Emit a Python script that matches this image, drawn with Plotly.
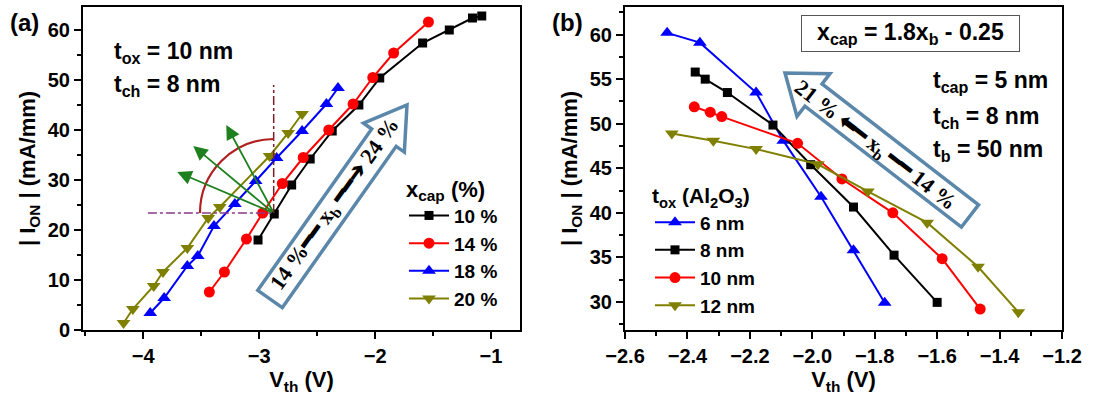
import math
import plotly.graph_objects as go

# ---------------- data ----------------
# panel (a): Vth (V) vs |I_ON| (mA/mm) for different x_cap
a_names = ["10 %", "14 %", "18 %", "20 %"]
a_x10 = [-3.01, -2.87, -2.72, -2.56, -2.37, -2.14, -1.96, -1.59, -1.36, -1.16, -1.08]
a_y10 = [18.0, 23.2, 29.0, 34.2, 39.8, 45.0, 50.4, 57.4, 60.0, 62.4, 62.8]
a_x14 = [-3.43, -3.30, -3.11, -2.97, -2.80, -2.62, -2.40, -2.19, -2.02, -1.84, -1.54]
a_y14 = [7.6, 11.6, 18.2, 23.4, 29.3, 34.5, 40.0, 45.2, 50.5, 55.4, 61.6]
a_x18 = [-3.94, -3.82, -3.62, -3.53, -3.39, -3.21, -3.03, -2.85, -2.63, -2.42, -2.32]
a_y18 = [3.4, 6.4, 12.8, 14.8, 20.8, 25.2, 29.8, 34.4, 39.8, 45.2, 48.4]
a_x20 = [-4.17, -4.09, -3.91, -3.83, -3.62, -3.44, -3.34, -2.91, -2.75, -2.63]
a_y20 = [1.4, 4.2, 8.8, 11.6, 16.4, 22.4, 24.6, 34.8, 39.4, 43.2]

# panel (b): Vth (V) vs |I_ON| (mA/mm) for different t_ox (Al2O3)
b_names = ["6 nm", "8 nm", "10 nm", "12 nm"]
b_x6 = [-2.465, -2.36, -2.18, -2.093, -1.972, -1.868, -1.768]
b_y6 = [60.2, 59.1, 53.5, 48.1, 41.8, 35.8, 29.9]
b_x8 = [-2.375, -2.343, -2.272, -2.126, -2.005, -1.868, -1.738, -1.60]
b_y8 = [55.8, 55.0, 53.5, 49.85, 45.4, 40.65, 35.25, 29.95]
b_x10 = [-2.378, -2.327, -2.29, -2.047, -1.905, -1.742, -1.584, -1.462]
b_y10 = [51.9, 51.3, 50.8, 47.8, 43.8, 40.0, 34.85, 29.2]
b_x12 = [-2.45, -2.317, -2.18, -1.982, -1.822, -1.632, -1.469, -1.34]
b_y12 = [48.9, 48.1, 47.15, 45.45, 42.4, 38.9, 33.95, 28.85]

# annotation geometry (panel a), data units
pivot_v, pivot_i = -2.875, 23.4
vline_top = 49.0
hline_left = -3.96
green_tips_v = [-3.284, -3.569, -3.707]
green_tips_i = [41.0, 36.8, 31.6]

# ---------------- layout helpers ----------------
W, H = 1093, 400
FONT = "Arial, 'Liberation Sans', sans-serif"
SERIF = "'Times New Roman', 'Liberation Serif', serif"


def P(px, py):
    return px / W, 1 - py / H


def block_arrow(B, T, bw, hw, hl):
    dx, dy = T[0] - B[0], T[1] - B[1]
    L = math.hypot(dx, dy)
    ux, uy = dx / L, dy / L
    nx, ny = -uy, ux
    Hb = (T[0] - ux * hl, T[1] - uy * hl)
    pts = [
        (B[0] + nx * bw, B[1] + ny * bw),
        (Hb[0] + nx * bw, Hb[1] + ny * bw),
        (Hb[0] + nx * hw, Hb[1] + ny * hw),
        T,
        (Hb[0] - nx * hw, Hb[1] - ny * hw),
        (Hb[0] - nx * bw, Hb[1] - ny * bw),
        (B[0] - nx * bw, B[1] - ny * bw),
    ]
    s = ""
    for k, (px, py) in enumerate(pts):
        x, y = P(px, py)
        s += ("M" if k == 0 else " L") + f"{x:.5f},{y:.5f}"
    return s + " Z"


def quarter_arc(cx, cy, r):
    k = 0.5523
    p0 = P(cx, cy - r)
    p1 = P(cx - k * r, cy - r)
    p2 = P(cx - r, cy - k * r)
    p3 = P(cx - r, cy)
    return (f"M{p0[0]:.5f},{p0[1]:.5f} C{p1[0]:.5f},{p1[1]:.5f} "
            f"{p2[0]:.5f},{p2[1]:.5f} {p3[0]:.5f},{p3[1]:.5f}")


fig = go.Figure()

colors = ["#000000", "#FF0000", "#0000FF", "#808000"]

a_series = [(a_x10, a_y10, "square", 9), (a_x14, a_y14, "circle", 11),
            (a_x18, a_y18, "triangle-up", 12), (a_x20, a_y20, "triangle-down", 12)]
for name, col, (xs, ys, sym, sz) in zip(a_names, colors, a_series):
    fig.add_trace(go.Scatter(x=xs, y=ys, name=name, mode="lines+markers",
                             line=dict(color=col, width=2),
                             marker=dict(symbol=sym, size=sz, color=col),
                             xaxis="x", yaxis="y", legend="legend"))

b_colors = ["#0000FF", "#000000", "#FF0000", "#808000"]
b_series = [(b_x6, b_y6, "triangle-up", 12), (b_x8, b_y8, "square", 9),
            (b_x10, b_y10, "circle", 11), (b_x12, b_y12, "triangle-down", 12)]
for name, col, (xs, ys, sym, sz) in zip(b_names, b_colors, b_series):
    fig.add_trace(go.Scatter(x=xs, y=ys, name=name, mode="lines+markers",
                             line=dict(color=col, width=2),
                             marker=dict(symbol=sym, size=sz, color=col),
                             xaxis="x2", yaxis="y2", legend="legend2"))

ax_common = dict(showline=True, linewidth=2, linecolor="black", mirror=True,
                 ticks="outside", ticklen=7, tickwidth=2, tickcolor="black",
                 showgrid=False, zeroline=False, automargin=False,
                 tickfont=dict(size=20, family=FONT, color="black"))

ydom = [1 - 330 / H, 1 - 7 / H]
TF = dict(size=22, family=FONT, color="black", weight="bold")
fig.update_layout(
    width=W, height=H, margin=dict(l=0, r=0, t=0, b=0),
    paper_bgcolor="white", plot_bgcolor="white",
    font=dict(family=FONT, size=20, color="black", weight="bold"),
    xaxis=dict(domain=[83 / W, 520 / W], range=[-4.52, -0.75], dtick=1,
               minor=dict(dtick=0.5, ticklen=4, tickwidth=2, ticks="outside"),
               title=dict(text="V<sub>th</sub> (V)", font=TF, standoff=6),
               anchor="y", **ax_common),
    yaxis=dict(domain=ydom, range=[0, 64.6], dtick=10,
               minor=dict(dtick=5, ticklen=4, tickwidth=2, ticks="outside"),
               title=dict(text="| I<sub>ON</sub> | (mA/mm)", font=TF, standoff=6),
               anchor="x", **ax_common),
    xaxis2=dict(domain=[625 / W, 1062 / W], range=[-2.6, -1.2], dtick=0.2,
                tickformat=".1f",
                minor=dict(dtick=0.1, ticklen=4, tickwidth=2, ticks="outside"),
                title=dict(text="V<sub>th</sub> (V)", font=TF, standoff=6),
                anchor="y2", **ax_common),
    yaxis2=dict(domain=ydom, range=[26.85, 63.1], dtick=5,
                minor=dict(dtick=2.5, ticklen=4, tickwidth=2, ticks="outside"),
                title=dict(text="| I<sub>ON</sub> | (mA/mm)", font=TF, standoff=6),
                anchor="x2", **ax_common),
    legend=dict(x=404 / W, y=1 - 168 / H, xanchor="left", yanchor="top",
                bgcolor="rgba(0,0,0,0)", font=dict(size=19),
                title=dict(text="x<sub>cap</sub> (%)", font=dict(size=22)),
                tracegroupgap=0, itemwidth=40),
    legend2=dict(x=650 / W, y=1 - 176 / H, xanchor="left", yanchor="top",
                 bgcolor="rgba(0,0,0,0)", font=dict(size=19),
                 title=dict(text="t<sub>ox</sub> (Al<sub>2</sub>O<sub>3</sub>)", font=dict(size=21)),
                 tracegroupgap=0, itemwidth=40),
)

shapes = []
# big outlined arrows
shapes.append(dict(type="path", xref="paper", yref="paper",
                   path=block_arrow((270, 299), (407, 105), 15, 25, 40),
                   line=dict(color="#5A87AA", width=3.5), fillcolor="white", layer="below"))
shapes.append(dict(type="path", xref="paper", yref="paper",
                   path=block_arrow((970, 216), (785, 73), 14, 27, 36),
                   line=dict(color="#5A87AA", width=3.5), fillcolor="white", layer="below"))
# dash-dot guide lines
shapes.append(dict(type="line", xref="x", yref="y", x0=pivot_v, x1=pivot_v,
                   y0=pivot_i, y1=vline_top, line=dict(color="#7A1F2A", width=1.5, dash="dashdot")))
shapes.append(dict(type="line", xref="x", yref="y", x0=hline_left, x1=pivot_v,
                   y0=pivot_i, y1=pivot_i, line=dict(color="#8A3A8A", width=1.5, dash="dashdot")))
# arc
shapes.append(dict(type="path", xref="paper", yref="paper", path=quarter_arc(274, 213, 74),
                   line=dict(color="#B02020", width=2.2)))
fig.update_layout(shapes=shapes)

ann = []
for tv, ti in zip(green_tips_v, green_tips_i):
    ann.append(dict(xref="x", yref="y", axref="x", ayref="y", x=tv, y=ti,
                    ax=pivot_v, ay=pivot_i, text="", showarrow=True,
                    arrowhead=2, arrowsize=1.6, arrowwidth=1.8, arrowcolor="#1E801E"))


def txt(px, py, text, size=23, xanchor="left", **kw):
    x, y = P(px, py)
    d = dict(xref="paper", yref="paper", x=x, y=y, text=text, showarrow=False,
             xanchor=xanchor, yanchor="middle",
             font=dict(size=size, family=FONT, color="black", weight="bold"))
    d.update(kw)
    return d


ann.append(txt(8, 22, "(a)", size=24))
ann.append(txt(550, 22, "(b)", size=24))
ann.append(txt(112, 52, "t<sub>ox</sub> = 10 nm"))
ann.append(txt(112, 86, "t<sub>ch</sub> = 8 nm"))
ann.append(txt(931, 82, "t<sub>cap</sub> = 5 nm"))
ann.append(txt(931, 117, "t<sub>ch</sub> = 8 nm"))
ann.append(txt(931, 150, "t<sub>b</sub> = 50 nm"))
ann.append(txt(910, 33, "x<sub>cap</sub> = 1.8x<sub>b</sub> - 0.25", xanchor="center",
               bordercolor="#555555", borderwidth=1, borderpad=3, bgcolor="white",
               width=211, height=29))
# rotated arrow texts
x, y = P(335, 205)
ann.append(dict(xref="paper", yref="paper", x=x, y=y, showarrow=False, textangle=-54.5,
                xanchor="center", yanchor="middle",
                text="14 %━━ x<sub>b</sub> ━━➔ 24 %",
                font=dict(size=22, family=SERIF, color="black", weight="bold")))
x, y = P(875, 146)
ann.append(dict(xref="paper", yref="paper", x=x, y=y, showarrow=False, textangle=37.7,
                xanchor="center", yanchor="middle",
                text="21 % ⬅━ x<sub>b</sub> ━━ 14 %",
                font=dict(size=22, family=SERIF, color="black", weight="bold")))
fig.update_layout(annotations=ann)

fig.write_html("out.html")
